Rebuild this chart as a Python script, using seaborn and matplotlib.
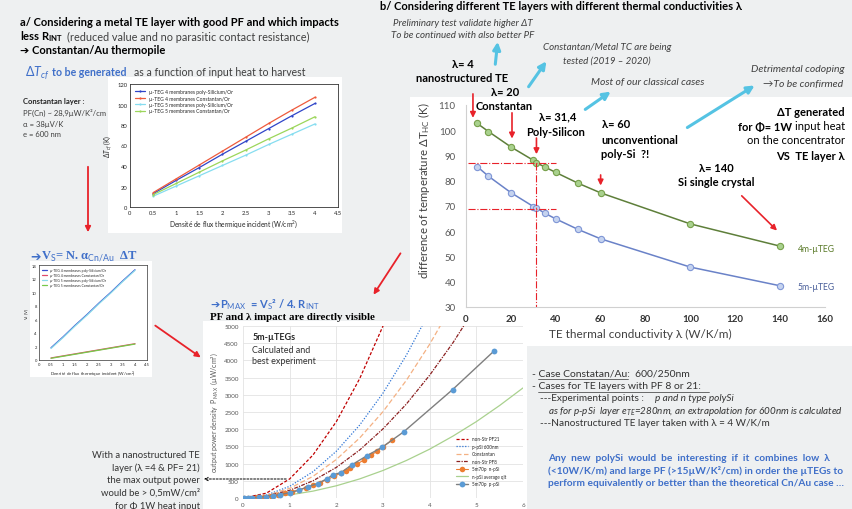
import pandas as pd
import seaborn as sns
import matplotlib.pyplot as plt
from matplotlib.patches import Rectangle, FancyArrowPatch

sns.set_theme(style="white")
plt.rcParams['font.family'] = ['Lato', 'DejaVu Sans']
plt.rcParams['mathtext.fontset'] = 'custom'
plt.rcParams['mathtext.rm'] = 'Lato'
plt.rcParams['mathtext.it'] = 'Lato:italic'
plt.rcParams['mathtext.bf'] = 'Lato:bold'

# ---- main chart: dT vs thermal conductivity
lam = [5, 10, 20, 30, 31.4, 35, 40, 50, 60, 100, 140]
dt_4m = [102.7, 99.5, 93.4, 88.1, 87.1, 85.5, 83.3, 79.0, 75.2, 62.9, 54.1]
dt_5m = [85.6, 81.8, 75.3, 69.8, 69.2, 67.2, 64.9, 60.7, 57.0, 45.8, 38.4]

# ---- top-left chart: dT_cf vs heat flux density
flux = [0.5, 1, 1.5, 2, 2.5, 3, 3.5, 4]
dtcf_4_psi = [13, 26, 38.5, 51.5, 64, 76.5, 89, 101]
dtcf_4_cn = [14, 27.5, 41, 54.5, 68, 81.5, 94.5, 107]
dtcf_5_psi = [10.5, 20.5, 30.5, 40.5, 50.5, 61, 71, 81]
dtcf_5_cn = [12, 23, 34, 45, 55.5, 66.5, 77, 88]
teg_labels = ['µ-TEG 4 membranes poly-Silicium/Or', 'µ-TEG 4 membranes Constantan/Or',
              'µ-TEG 5 membranes poly-Silicium/Or', 'µ-TEG 5 membranes Constantan/Or']

# ---- middle-left chart: Vs vs heat flux density
vs_4_psi = [1.8, 3.4, 5.1, 6.7, 8.4, 10.0, 11.7, 13.3]
vs_4_cn = [0.3, 0.6, 0.9, 1.2, 1.5, 1.8, 2.1, 2.4]
vs_5_psi = [1.7, 3.3, 5.0, 6.6, 8.3, 9.9, 11.6, 13.2]
vs_5_cn = [0.25, 0.55, 0.85, 1.15, 1.45, 1.75, 2.05, 2.35]

# ---- bottom chart: Pmax vs heat flux
x_nstr21 = [0, 0.5, 1, 1.5, 2, 2.5, 3, 3.5]
p_nstr21 = [0, 140, 555, 1250, 2220, 3470, 5000, 6800]
x_psi600 = [0, 0.5, 1, 1.5, 2, 2.5, 3, 3.5, 4]
p_psi600 = [0, 85, 340, 765, 1360, 2120, 3050, 4150, 5420]
x_cn = [0, 0.5, 1, 1.5, 2, 2.5, 3, 3.5, 4, 4.5]
p_cn = [0, 70, 280, 630, 1120, 1745, 2510, 3420, 4470, 5650]
x_nstr8 = [0, 0.5, 1, 1.5, 2, 2.5, 3, 3.5, 4, 4.5, 5]
p_nstr8 = [0, 56, 223, 500, 890, 1395, 2010, 2730, 3570, 4515, 5580]
x_navg = [0, 0.5, 1, 1.5, 2, 2.5, 3, 3.5, 4, 4.5, 5, 5.5, 6]
p_navg = [0, 22, 90, 200, 355, 555, 800, 1090, 1420, 1800, 2220, 2690, 3200]
x_nexp = [0.02, 0.1, 0.2, 0.3, 0.45, 0.6, 0.75, 0.9, 1.05, 1.2, 1.35, 1.5,
          1.65, 1.8, 1.95, 2.1, 2.2, 2.3, 2.45, 2.6, 2.75, 2.87, 3.0, 3.19]
p_nexp = [0, 2, 7, 15, 33, 59, 93, 134, 182, 238, 300, 371,
          449, 535, 627, 728, 799, 873, 990, 1115, 1248, 1360, 1485, 1680]
x_pexp = [0.02, 0.1, 0.2, 0.35, 0.5, 0.65, 0.8, 1.0, 1.2, 1.39, 1.6, 1.8,
          1.92, 2.1, 2.34, 2.66, 2.98, 3.44, 4.49, 5.37]
p_pexp = [0, 2, 6, 20, 40, 68, 100, 155, 225, 330, 420, 560,
          670, 740, 971, 1233, 1476, 1920, 3150, 4262]

W, H = 853, 510
BG = '#EEF0F1'
RED = '#E8222A'
CYAN = '#55C3E3'
BLUE_TXT = '#3F6FC9'
GREY = '#404040'
SERIF = ['Liberation Serif', 'DejaVu Serif']

fig = plt.figure(figsize=(W / 100, H / 100), dpi=100, facecolor=BG)


def P(x, y):
    return (x / W, 1 - y / H)


def add_ax(x0, y0, x1, y1):
    return fig.add_axes([x0 / W, 1 - y1 / H, (x1 - x0) / W, (y1 - y0) / H])


def white_box(x0, y0, x1, y1):
    fig.add_artist(Rectangle(P(x0, y1), (x1 - x0) / W, (y1 - y0) / H,
                             transform=fig.transFigure, facecolor='white',
                             edgecolor='none', zorder=-1))


def T(x, y, s, **kw):
    kw.setdefault('va', 'center')
    kw.setdefault('color', 'black')
    fig.text(x / W, 1 - y / H, s, **kw)


def arrow(x0, y0, x1, y1, color, lw=1.6, ms=9, ls='-', style='-|>'):
    fig.add_artist(FancyArrowPatch(P(x0, y0), P(x1, y1), transform=fig.transFigure,
                                   arrowstyle=style, mutation_scale=ms, color=color,
                                   lw=lw, linestyle=ls, zorder=5))


# ================= main chart =================
white_box(410, 98, 853, 347)
ax = add_ax(466, 106, 825, 308)
ax.set_facecolor('none')
green_line, green_face, green_edge = '#5E7F3A', '#A9D18E', '#77A04A'
blue_line, blue_face, blue_edge = '#6A82C8', '#C5D3EF', '#7F96D6'
sns.lineplot(x=lam, y=dt_4m, ax=ax, color=green_line, lw=1.1, marker='o', markersize=4.5,
             markerfacecolor=green_face, markeredgecolor=green_edge, markeredgewidth=0.8)
sns.lineplot(x=lam, y=dt_5m, ax=ax, color=blue_line, lw=1.1, marker='o', markersize=4.5,
             markerfacecolor=blue_face, markeredgecolor=blue_edge, markeredgewidth=0.8)
ax.set_xlim(0, 160)
ax.set_ylim(30, 110)
ax.set_xticks(range(0, 161, 20))
ax.set_yticks(range(30, 111, 10))
for s in ['top', 'right']:
    ax.spines[s].set_visible(False)
for s in ['left', 'bottom']:
    ax.spines[s].set_color('#D0D0D0')
    ax.spines[s].set_linewidth(0.8)
ax.tick_params(axis='y', labelsize=7, labelcolor='#595959', length=3, color='#D0D0D0',
               direction='inout', pad=6)
ax.tick_params(axis='x', labelsize=7, labelcolor='#333333', length=0, pad=5)
for lb in ax.get_xticklabels():
    lb.set_fontweight('bold')
ax.set_xlabel('')
ax.set_ylabel('')

# guide lines at lambda = 31.4
ax.plot([1, 40], [87, 87], color=RED, ls='-.', lw=0.8)
ax.plot([1, 40], [69, 69], color=RED, ls='-.', lw=0.8)
ax.plot([31.4, 31.4], [87, 30], color=RED, ls='-.', lw=0.8)

for (xt, yt, xh, yh) in [(3.1, 115.5, 3.1, 103.8), (20.5, 108, 20.5, 95.6),
                         (31.4, 98, 31.4, 89.4), (60, 83.4, 60, 77.0),
                         (122, 74.8, 139.5, 59.5)]:
    ax.annotate('', xy=(xh, yh), xytext=(xt, yt), annotation_clip=False,
                arrowprops=dict(arrowstyle='-|>', color=RED, lw=1.2, mutation_scale=8))

T(424, 191, 'difference of temperature ΔT$_{\\mathrm{HC}}$ (K)', rotation=90, ha='center',
  fontsize=8.2, color=GREY)
T(640, 334, 'TE thermal conductivity λ (W/K/m)', ha='center', fontsize=8.5, color=GREY)

T(798, 249, '4m-µTEG', fontsize=6.2, color='#5B7B2A')
T(798, 287, '5m-µTEG', fontsize=6.2, color='#4A5F9A')

FS = 8
T(463, 65, 'λ= 4', ha='center', fontsize=FS, fontweight='bold')
T(462, 79, 'nanostructured TE', ha='center', fontsize=FS, fontweight='bold')
T(505, 93, 'λ= 20', ha='center', fontsize=FS, fontweight='bold')
T(504, 107, 'Constantan', ha='center', fontsize=FS, fontweight='bold')
T(558, 117, 'λ= 31,4', ha='center', fontsize=FS, fontweight='bold')
T(556, 133, 'Poly-Silicon', ha='center', fontsize=FS, fontweight='bold')
T(616, 125, 'λ= 60', ha='center', fontsize=FS, fontweight='bold')
T(601, 141, 'unconventional', ha='left', fontsize=FS, fontweight='bold')
T(601, 155, 'poly-Si  ?!', ha='left', fontsize=FS, fontweight='bold')
T(716, 169, 'λ= 140', ha='center', fontsize=FS, fontweight='bold')
T(716, 183, 'Si single crystal', ha='center', fontsize=FS, fontweight='bold')

T(845, 112, 'ΔT generated', ha='right', fontsize=FS, fontweight='bold')
T(845, 127, 'input heat', ha='right', fontsize=FS)
T(792, 127, 'for Φ= 1W', ha='right', fontsize=FS, fontweight='bold')
T(845, 141, 'on the concentrator', ha='right', fontsize=FS)
T(845, 156, 'VS  TE layer λ', ha='right', fontsize=FS, fontweight='bold')

# top annotations of part b
T(380, 6, 'b/ Considering different TE layers with different thermal conductivities λ',
  fontsize=8, fontweight='bold')
T(463, 24, 'Preliminary test validate higher ΔT', ha='center', fontsize=7,
  style='italic', color=GREY)
T(463, 36, 'To be continued with also better PF', ha='center', fontsize=7,
  style='italic', color=GREY)
T(607, 47, 'Constantan/Metal TC are being', ha='center', fontsize=7, style='italic', color=GREY)
T(607, 61, 'tested (2019 – 2020)', ha='center', fontsize=7, style='italic', color=GREY)
T(648, 83, 'Most of our classical cases', ha='center', fontsize=7.5, style='italic', color=GREY)
T(798, 70, 'Detrimental codoping', ha='center', fontsize=7.5, style='italic', color=GREY)
T(803, 84, '→To be confirmed', ha='center', fontsize=7.5, style='italic', color=GREY)

arrow(495, 68, 498, 40, CYAN, lw=2.2, ms=11)
arrow(527, 90, 548, 60, CYAN, lw=2.2, ms=11)
arrow(583, 112, 613, 91, CYAN, lw=2.2, ms=11)
arrow(685, 130, 757, 85, CYAN, lw=2.2, ms=11)

# ================= part a, top-left =================
T(20, 23, 'a/ Considering a metal TE layer with good PF and which impacts',
  fontsize=8, fontweight='bold')
T(20, 37, 'less R$_{\\mathbf{INT}}$', fontsize=8, fontweight='bold')
T(67, 37, '(reduced value and no parasitic contact resistance)', fontsize=7.8, color=GREY)
T(20, 51, '➔ Constantan/Au thermopile', fontsize=8, fontweight='bold')
T(25, 73, '$\\Delta T_{cf}$', fontsize=9, color=BLUE_TXT)
T(52, 73, 'to be generated', fontsize=7.6, fontweight='bold', color=BLUE_TXT)
T(134, 73, 'as a function of input heat to harvest', fontsize=7.6, color=GREY)

T(23, 102, 'Constantan layer :', fontsize=5.5, fontweight='bold', color='#222222')
T(23, 113, 'PF(Cn) ~ 28,9µW/K²/cm', fontsize=5.5, color=GREY)
T(23, 124, 'α = 38µV/K', fontsize=5.5, color=GREY)
T(23, 135, 'e = 600 nm', fontsize=5.5, color=GREY)

white_box(108, 78, 342, 234)
ax1 = add_ax(130, 85, 338, 208)
cols1 = ['#2F45C8', '#EE5A3C', '#86DDF0', '#9CD65A']
for vals, c, lb in zip([dtcf_4_psi, dtcf_4_cn, dtcf_5_psi, dtcf_5_cn], cols1, teg_labels):
    sns.lineplot(x=flux, y=vals, ax=ax1, color=c, lw=0.9, marker='o', markersize=1.6,
                 markeredgewidth=0, label=lb)
ax1.set_xlim(0, 4.5)
ax1.set_ylim(0, 120)
ax1.set_xticks([0, 0.5, 1, 1.5, 2, 2.5, 3, 3.5, 4, 4.5])
ax1.set_xticklabels(['0', '0.5', '1', '1.5', '2', '2.5', '3', '3.5', '4', '4.5'])
ax1.set_yticks(range(0, 121, 20))
ax1.tick_params(labelsize=4.2, length=2, direction='in', pad=2, color='#333333')
for s in ax1.spines.values():
    s.set_linewidth(0.6)
    s.set_color('#333333')
ax1.set_xlabel('Densité de flux thermique incident (W/cm$^2$)', fontsize=4.8, labelpad=2)
ax1.set_ylabel('$\\Delta T_{cf}$ (K)', fontsize=4.8, labelpad=2)
ax1.legend(loc='upper left', fontsize=3.6, frameon=False, handlelength=2.0,
           borderaxespad=0.6, labelspacing=0.3)

arrow(88, 165, 88, 236, RED, lw=1.3, ms=8)

# ================= middle-left =================
T(30, 257, '➔', fontsize=9, color=BLUE_TXT)
T(41, 257, 'V$_{\\mathrm{S}}$= N. α$_{\\mathrm{Cn/Au}}$  ΔT', fontsize=9, fontweight='bold',
  color=BLUE_TXT, family=SERIF)
white_box(30, 262, 152, 378)
ax2 = add_ax(39, 266, 147, 361)
cols2 = ['#3B4FD0', '#E04A6A', '#8ADBEA', '#77C84A']
for vals, c, lb in zip([vs_4_psi, vs_4_cn, vs_5_psi, vs_5_cn], cols2, teg_labels):
    sns.lineplot(x=flux, y=vals, ax=ax2, color=c, lw=0.9, label=lb)
ax2.set_xlim(0, 4.5)
ax2.set_ylim(0, 14)
ax2.set_xticks([0, 0.5, 1, 1.5, 2, 2.5, 3, 3.5, 4, 4.5])
ax2.set_xticklabels(['0', '0.5', '1', '1.5', '2', '2.5', '3', '3.5', '4', '4.5'])
ax2.set_yticks(range(0, 15, 2))
ax2.tick_params(labelsize=3, length=1.5, direction='in', pad=1.5, color='#333333')
for s in ax2.spines.values():
    s.set_linewidth(0.5)
    s.set_color('#333333')
ax2.set_xlabel('Densité de flux thermique incident (W/cm$^2$)', fontsize=3.2, labelpad=1.5)
ax2.set_ylabel('V$_s$ (V)', fontsize=3.2, labelpad=1)
ax2.legend(loc='upper left', fontsize=2.4, frameon=False, handlelength=1.6,
           borderaxespad=0.5, labelspacing=0.3)

arrow(153, 325, 203, 360, RED, lw=1.3, ms=8)

# ================= bottom chart: PMAX =================
T(210, 305, '➔', fontsize=8, color=BLUE_TXT)
T(220, 305, 'P$_{\\mathrm{MAX}}$  = V$_{\\mathrm{S}}$² / 4. R$_{\\mathrm{INT}}$', fontsize=8,
  fontweight='bold', color=BLUE_TXT)
T(210, 317, 'PF and λ impact are directly visible', fontsize=7.8, fontweight='bold',
  family=SERIF)
white_box(203, 322, 527, 510)
ax3 = add_ax(243, 327, 523, 499)
sns.lineplot(x=x_navg, y=p_navg, ax=ax3, color='#A9D18E', lw=0.9, label='n-pSi average qlt')
sns.lineplot(x=x_nstr21, y=p_nstr21, ax=ax3, color='#C00000', lw=0.9, label='non-Str PF21',
             linestyle=(0, (2.5, 1.5)))
sns.lineplot(x=x_psi600, y=p_psi600, ax=ax3, color='#2E75D6', lw=0.9, label='p-pSi 600nm',
             linestyle=(0, (1, 1.3)))
sns.lineplot(x=x_cn, y=p_cn, ax=ax3, color='#F4B183', lw=0.9, label='Constantan',
             linestyle=(0, (4, 2)))
sns.lineplot(x=x_nstr8, y=p_nstr8, ax=ax3, color='#8B2020', lw=0.9, label='non-Str PF8',
             linestyle=(0, (3, 1, 1, 1)))
sns.lineplot(x=x_nexp, y=p_nexp, ax=ax3, color='#ED7D31', lw=0.8, marker='o', markersize=4,
             markeredgewidth=0, label='5m70p  n-pSi')
sns.lineplot(x=x_pexp, y=p_pexp, ax=ax3, color='#7F7F7F', lw=1.0, marker='o', markersize=4.2,
             markerfacecolor='#5B9BD5', markeredgewidth=0, label='5m70p  p-pSi')
ax3.set_xlim(0, 6)
ax3.set_ylim(0, 5000)
ax3.set_xticks(range(0, 7))
ax3.set_yticks(range(0, 5001, 500))
ax3.grid(True, color='#E3E3E3', lw=0.6)
for s in ax3.spines.values():
    s.set_visible(False)
ax3.tick_params(labelsize=4.5, length=0, pad=3, labelcolor='#595959')
ax3.set_ylabel('output power density  P$_{\\mathrm{MAX}}$  (µW/cm²)', fontsize=5,
               color='#595959', labelpad=3)
ax3.set_xlabel('')
hd, lb = ax3.get_legend_handles_labels()
order = [1, 2, 3, 4, 5, 0, 6]
ax3.legend([hd[i] for i in order], [lb[i] for i in order], loc='upper left',
           bbox_to_anchor=(0.755, 0.37), fontsize=3.3, frameon=False, handlelength=2.6,
           labelspacing=0.55, borderaxespad=0)
ax3.text(0.2, 4700, '5m-µTEGs', fontsize=6.5, fontweight='bold', va='center')
ax3.text(0.2, 4150, 'Calculated and\nbest experiment', fontsize=6.5, va='center',
         linespacing=1.3, color='#333333')

arrow(402, 252, 372, 298, RED, lw=1.3, ms=8)
arrow(289, 480, 201, 480, 'black', lw=0.7, ms=6, ls=(0, (2, 1.5)), style='->')

for i, s in enumerate(['With a nanostructured TE', 'layer (λ =4 & PF= 21)',
                       'the max output power', 'would be > 0,5mW/cm²',
                       'for Φ 1W heat input']):
    T(200, 456 + 12.5 * i, s, ha='right', fontsize=6.8, color='#333333')

# ================= bottom-right notes =================
T(532, 374, '- Case Constatan/Au:  600/250nm', fontsize=7.5, color='#333333')
T(532, 387, '- Cases for TE layers with PF 8 or 21:', fontsize=7.5, color='#333333')
T(540, 399, '---Experimental points : ', fontsize=7.2, color='#333333')
T(655, 399, 'p and n type polySi', fontsize=7.2, style='italic', color='#333333')
T(548, 412, 'as for p-pSi  layer e$_{TE}$=280nm, an extrapolation for 600nm is calculated',
  fontsize=7.1, style='italic', color='#333333')
T(540, 424, '---Nanostructured TE layer taken with λ = 4 W/K/m', fontsize=7.2, color='#333333')
fig.add_artist(plt.Line2D([538 / W, 628 / W], [1 - 380 / H] * 2, color='#333333', lw=0.5))
fig.add_artist(plt.Line2D([538 / W, 709 / W], [1 - 393 / H] * 2, color='#333333', lw=0.5))

T(548, 459, 'Any  new  polySi  would  be  interesting  if  it  combines  low  λ',
  fontsize=7.3, fontweight='bold', color=BLUE_TXT)
T(548, 471, '(<10W/K/m) and large PF (>15µW/K²/cm) in order the µTEGs to',
  fontsize=7.3, fontweight='bold', color=BLUE_TXT)
T(548, 484, 'perform equivalently or better than the theoretical Cn/Au case …',
  fontsize=7.3, fontweight='bold', color=BLUE_TXT)

fig.savefig('out.png', dpi=100, facecolor=BG)
